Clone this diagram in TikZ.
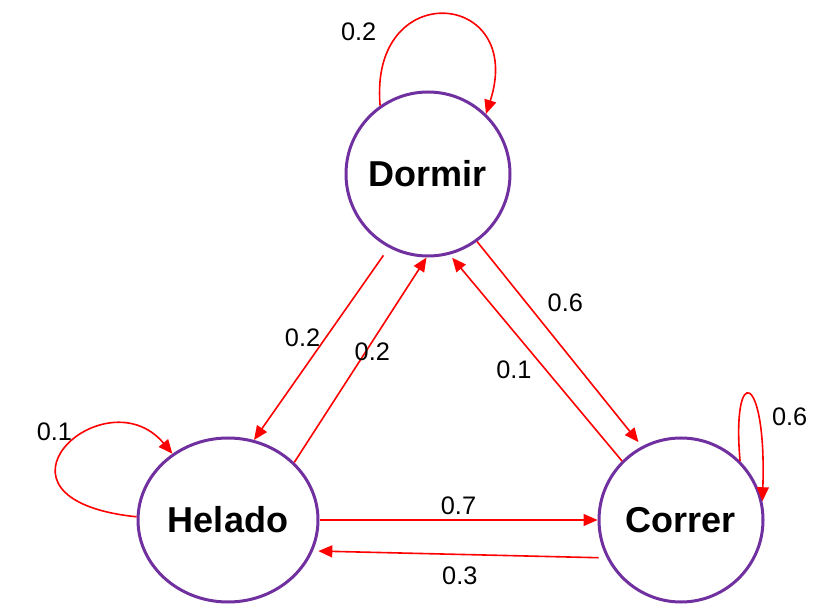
\documentclass[tikz,border=0pt]{standalone}
\usepackage{fontspec}
\setmainfont{Liberation Sans}
\usetikzlibrary{arrows.meta, shapes.geometric}
\definecolor{morado}{RGB}{112,48,160}

\begin{document}
\begin{tikzpicture}[x=0.75pt, y=0.75pt, every node/.style={font=\fontsize{19}{22}\selectfont},
						estado/.style={draw=morado, line width=2.25pt, circle, minimum size=123pt,
						inner sep=0pt, font=\fontsize{27}{32}\selectfont\bfseries},
						trans/.style={-{Triangle[length=10.5pt, width=9pt]}, draw=red, line width=1.2pt}]
			\useasboundingbox (0,0) rectangle (829,615);

			\node[estado] (D) at (428,441) {Dormir};
			\node[estado, ellipse, minimum width=135pt, minimum height=123pt] (H) at (228,95) {Helado};
			\node[estado] (C) at (681,95) {Correr};

			\draw[trans] (D.125) .. controls +(95:130) and +(72:130) .. (D.46) node[pos=0.3, left, xshift=-18pt, yshift=-4pt] (pDD) {0.2};
			\draw[trans] (H.178) .. controls +(174:170) and +(130:105) .. (H.130) node[pos=0.55, above, xshift=-14pt, yshift=-3pt] (pHH) {0.1};
			\draw[trans] (C.45) .. controls +(95:100) and +(88:130) .. (C.13) node[pos=0.62, right, xshift=9pt, yshift=-9pt] (pCC) {0.6};

			\draw[trans, shorten <=7pt] (D.242) -- (H.72) node[pos=0.47, left] (pDH) {0.2};
			\draw[trans] (H.41) -- (D.269) node[pos=0.54, xshift=5pt] (pHD) {0.2};
			\draw[trans, shorten >=4pt] (D.306) -- (C.118) node[pos=0.3, right, xshift=12pt] (pDC) {0.6};
			\draw[trans, shorten >=3pt] (C.135) -- (D.285) node[pos=0.44, left, xshift=-7pt] (pCD) {0.1};
			\draw[trans] (H.0) -- (C.180) node[midway, above] (pHC) {0.7};
			\draw[trans, shorten <=6pt, shorten >=4pt] (C.207) -- (H.340) node[midway, below, yshift=-5pt] (pCH) {0.3};
		\end{tikzpicture}
\end{document}
